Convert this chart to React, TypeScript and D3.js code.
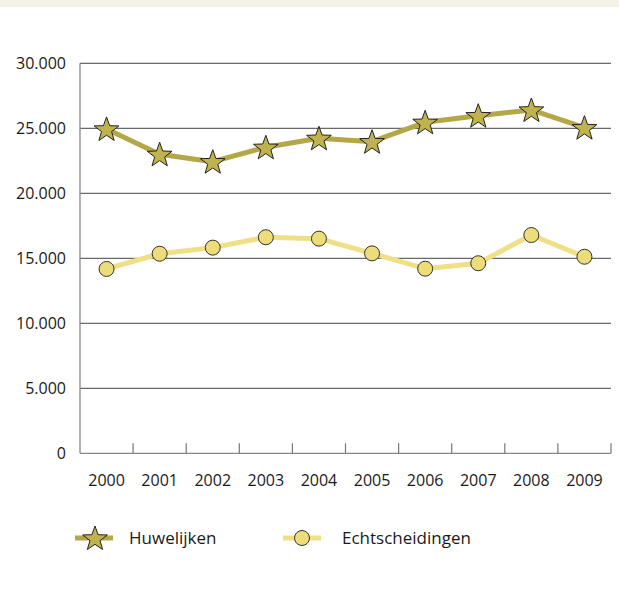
import React from "react";
import * as d3 from "d3";

const years = ["2000", "2001", "2002", "2003", "2004", "2005", "2006", "2007", "2008", "2009"];
const huwelijken = [24950, 23000, 22430, 23540, 24230, 23970, 25460, 25970, 26410, 25050];
const echtscheidingen = [14180, 15350, 15820, 16620, 16510, 15380, 14200, 14620, 16790, 15120];
const yTicks = [0, 5000, 10000, 15000, 20000, 25000, 30000];
const seriesNames = ["Huwelijken", "Echtscheidingen"];

const W = 619, H = 592;
const left = 80, right = 611, top = 63.3, bottom = 453.3;
const FONT = "'Open Sans', 'Noto Sans', sans-serif";

const starPath = (cx: number, cy: number, R: number, r: number) => {
  const pts: string[] = [];
  for (let i = 0; i < 10; i++) {
    const a = -Math.PI / 2 + (i * Math.PI) / 5;
    const rad = i % 2 === 0 ? R : r;
    pts.push(`${cx + rad * Math.cos(a)},${cy + rad * Math.sin(a)}`);
  }
  return "M" + pts.join("L") + "Z";
};

const fmt = (v: number) => (v === 0 ? "0" : d3.format(",")(v).replace(/,/g, "."));

export default function App() {
  const x = d3.scaleBand<string>().domain(years).range([left, right]);
  const y = d3.scaleLinear().domain([0, 30000]).range([bottom, top]);
  const cx = (yr: string) => (x(yr) as number) + x.bandwidth() / 2;
  const line = d3.line<number>().x((_, i) => cx(years[i])).y((d) => y(d));

  const olive = "#b4a748";
  const oliveFill = "#c0b34e";
  const light = "#efdf86";
  const lightFill = "#ecdc7a";
  const R = 13, r = 5.3;

  return (
    <svg width={W} height={H} style={{ position: "absolute", left: 0, top: 0 }} fontFamily={FONT}>
      <rect x={0} y={0} width={W} height={H} fill="#fff" />
      <rect x={0} y={0} width={W} height={7} fill="#f5f1e5" />
      {yTicks.filter((t) => t > 0).map((t) => (
        <line key={t} x1={left} x2={right} y1={y(t)} y2={y(t)} stroke="#444" strokeWidth={1} />
      ))}
      <line x1={left} x2={left} y1={top} y2={bottom} stroke="#888" strokeWidth={1.3} />
      <line x1={left} x2={right} y1={bottom} y2={bottom} stroke="#888" strokeWidth={1.3} />
      {years.map((yr) => {
        const xe = (x(yr) as number) + x.bandwidth();
        return <line key={yr} x1={xe} x2={xe} y1={bottom - 10} y2={bottom} stroke="#777" strokeWidth={1.2} />;
      })}
      {yTicks.map((t) => (
        <text key={t} x={66} y={y(t)} dy="0.35em" textAnchor="end" fontSize={16} fill="#1a1a1a">
          {fmt(t)}
        </text>
      ))}
      {years.map((yr) => (
        <text key={yr} x={cx(yr)} y={480} dy="0.35em" textAnchor="middle" fontSize={16} fill="#1a1a1a">
          {yr}
        </text>
      ))}
      <path d={line(echtscheidingen) || ""} fill="none" stroke={light} strokeWidth={5} strokeLinejoin="round" />
      {echtscheidingen.map((v, i) => (
        <circle key={i} cx={cx(years[i])} cy={y(v)} r={7.5} fill={lightFill} stroke="#333" strokeWidth={1} />
      ))}
      <path d={line(huwelijken) || ""} fill="none" stroke={olive} strokeWidth={5} strokeLinejoin="round" />
      {huwelijken.map((v, i) => (
        <path key={i} d={starPath(cx(years[i]), y(v) + 1, R, r)} fill={oliveFill} stroke="#222" strokeWidth={1} strokeLinejoin="miter" />
      ))}
      {/* legend */}
      <line x1={75} x2={113} y1={538} y2={538} stroke={olive} strokeWidth={5} />
      <path d={starPath(95, 539, R, r)} fill={oliveFill} stroke="#222" strokeWidth={1} />
      <text x={129} y={538} dy="0.35em" fontSize={17} fill="#1a1a1a">{seriesNames[0]}</text>
      <line x1={283} x2={321} y1={538} y2={538} stroke={light} strokeWidth={5} />
      <circle cx={302} cy={538} r={7.5} fill={lightFill} stroke="#333" strokeWidth={1} />
      <text x={342} y={538} dy="0.35em" fontSize={17} fill="#1a1a1a">{seriesNames[1]}</text>
    </svg>
  );
}
